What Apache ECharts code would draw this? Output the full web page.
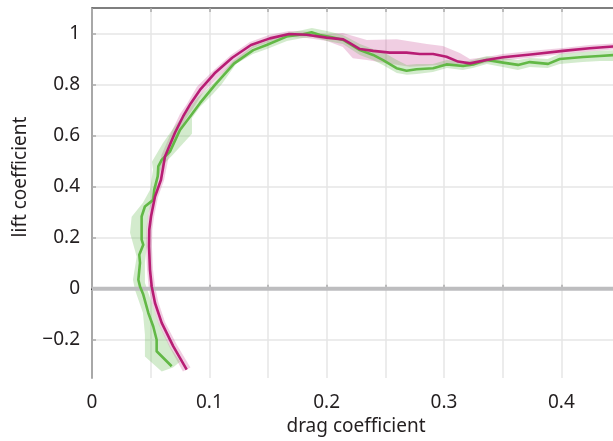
<!DOCTYPE html>
<html>
<head>
<meta charset="utf-8">
<script src="https://cdn.jsdelivr.net/npm/echarts@6/dist/echarts.min.js"></script>
<style>
  html, body { margin: 0; padding: 0; background: #fff; }
  #chart { width: 613px; height: 441px; }
</style>
</head>
<body>
<div id="chart"></div>
<script>
// Tick labels
const xLabelValues = [0, 0.1, 0.2, 0.3, 0.4];
const yLabelValues = [-0.2, 0, 0.2, 0.4, 0.6, 0.8, 1];

// Zero-lift reference
const baseline = [[0, 0], [0.45, 0]];

// Drag polar, green curve: [drag, lift]
const greenLine = [
  [0.0679, -0.304], [0.0551, -0.245], [0.0551, -0.200], [0.0522, -0.148],
  [0.0480, -0.095], [0.0437, -0.023], [0.0409, 0.009], [0.0395, 0.035],
  [0.0409, 0.101], [0.0403, 0.133], [0.0437, 0.172], [0.0423, 0.192],
  [0.0423, 0.283], [0.0451, 0.322], [0.0522, 0.348], [0.0530, 0.387],
  [0.0560, 0.440], [0.0565, 0.479], [0.0594, 0.505], [0.0664, 0.537],
  [0.0750, 0.622], [0.0835, 0.674], [0.0920, 0.727], [0.1050, 0.800],
  [0.1210, 0.882], [0.1374, 0.935], [0.1488, 0.955], [0.1658, 0.988],
  [0.1800, 0.997], [0.1871, 1.005], [0.1942, 0.994], [0.2056, 0.984],
  [0.2141, 0.975], [0.2283, 0.935], [0.2396, 0.916], [0.2481, 0.896],
  [0.2595, 0.864], [0.2681, 0.854], [0.2766, 0.860], [0.2907, 0.864],
  [0.3021, 0.879], [0.3163, 0.873], [0.3248, 0.879], [0.3362, 0.896],
  [0.3504, 0.886], [0.3631, 0.877], [0.3731, 0.888], [0.3887, 0.881],
  [0.3986, 0.900], [0.4185, 0.908], [0.4327, 0.912], [0.4500, 0.917]
];

// Drag polar, magenta curve: [drag, lift]
const magentaLine = [
  [0.0807, -0.317], [0.0693, -0.226], [0.0594, -0.134], [0.0537, -0.056],
  [0.0509, 0.009], [0.0494, 0.074], [0.0486, 0.166], [0.0488, 0.231],
  [0.0503, 0.283], [0.0537, 0.361], [0.0588, 0.427], [0.0622, 0.518],
  [0.0707, 0.611], [0.0775, 0.674], [0.0840, 0.725], [0.0920, 0.779],
  [0.1045, 0.844], [0.1195, 0.905], [0.1355, 0.955], [0.1516, 0.981],
  [0.1680, 0.998], [0.1829, 0.995], [0.1999, 0.984], [0.2141, 0.977],
  [0.2198, 0.962], [0.2283, 0.939], [0.2396, 0.932], [0.2538, 0.925],
  [0.2681, 0.925], [0.2794, 0.920], [0.2907, 0.920], [0.3021, 0.909],
  [0.3120, 0.890], [0.3220, 0.883], [0.3362, 0.896], [0.3504, 0.907],
  [0.3759, 0.919], [0.4015, 0.932], [0.4242, 0.942], [0.4500, 0.951]
];

// Spread envelopes as outlines: outer edge, then inner edge back
const greenBand = [
  [0.0594, -0.325], [0.0451, -0.266], [0.0451, -0.180], [0.0434, -0.094],
  [0.0366, -0.004], [0.0349, 0.035], [0.0381, 0.125], [0.0324, 0.219],
  [0.0338, 0.282], [0.0434, 0.337], [0.0494, 0.387], [0.0520, 0.466],
  [0.0511, 0.497], [0.0605, 0.571], [0.0707, 0.638], [0.0818, 0.701],
  [0.0903, 0.751], [0.1014, 0.795], [0.1201, 0.892], [0.1371, 0.951],
  [0.1491, 0.971], [0.1661, 1.002], [0.1797, 1.014], [0.1874, 1.022],
  [0.2002, 1.010], [0.2138, 0.994], [0.2283, 0.959], [0.2394, 0.939],
  [0.2479, 0.928], [0.2598, 0.896], [0.2683, 0.877], [0.2768, 0.881],
  [0.2905, 0.881], [0.3024, 0.896], [0.3160, 0.888], [0.3245, 0.896],
  [0.3365, 0.912], [0.3501, 0.904], [0.3629, 0.896], [0.3731, 0.904],
  [0.3884, 0.900], [0.3986, 0.920], [0.4182, 0.928], [0.4327, 0.932],
  [0.4500, 0.936],
  [0.4500, 0.892], [0.4327, 0.892], [0.4182, 0.888], [0.3986, 0.881],
  [0.3884, 0.865], [0.3731, 0.869], [0.3629, 0.857], [0.3501, 0.869],
  [0.3365, 0.881], [0.3245, 0.865], [0.3160, 0.857], [0.3024, 0.865],
  [0.2905, 0.849], [0.2768, 0.841], [0.2683, 0.838], [0.2598, 0.845],
  [0.2479, 0.877], [0.2394, 0.896], [0.2283, 0.916], [0.2138, 0.959],
  [0.2002, 0.971], [0.1882, 0.986], [0.1797, 0.982], [0.1661, 0.971],
  [0.1491, 0.939], [0.1371, 0.920], [0.1227, 0.881], [0.1107, 0.802],
  [0.1031, 0.763], [0.0920, 0.712], [0.0852, 0.669], [0.0852, 0.607],
  [0.0681, 0.521], [0.0596, 0.481], [0.0562, 0.427], [0.0545, 0.368],
  [0.0503, 0.325], [0.0480, 0.297], [0.0466, 0.231], [0.0466, 0.164],
  [0.0451, 0.102], [0.0451, 0.023], [0.0509, -0.055], [0.0565, -0.133],
  [0.0664, -0.227], [0.0750, -0.286], [0.0690, -0.309]
];

const magentaBand = [
  [0.0775, -0.325], [0.0664, -0.231], [0.0566, -0.137], [0.0511, -0.059],
  [0.0483, 0.008], [0.0469, 0.074], [0.0460, 0.164], [0.0463, 0.231],
  [0.0477, 0.286], [0.0511, 0.364], [0.0558, 0.431], [0.0592, 0.524],
  [0.0681, 0.618], [0.0750, 0.685], [0.0809, 0.724], [0.0894, 0.791],
  [0.1039, 0.857], [0.1184, 0.916], [0.1346, 0.967], [0.1508, 0.994],
  [0.1678, 1.010], [0.1831, 1.008], [0.2002, 0.998], [0.2138, 1.002],
  [0.2342, 0.975], [0.2598, 0.978], [0.2853, 0.959], [0.2990, 0.951],
  [0.3135, 0.924], [0.3220, 0.900], [0.3365, 0.908], [0.3501, 0.920],
  [0.3756, 0.932], [0.4012, 0.943], [0.4242, 0.955], [0.4500, 0.963],
  [0.4500, 0.939], [0.4242, 0.930], [0.4012, 0.920], [0.3756, 0.906],
  [0.3501, 0.894], [0.3365, 0.885], [0.3220, 0.871], [0.3135, 0.877],
  [0.2964, 0.877], [0.2709, 0.870], [0.2513, 0.883], [0.2342, 0.896],
  [0.2223, 0.903], [0.2138, 0.947], [0.2002, 0.971], [0.1831, 0.982],
  [0.1678, 0.986], [0.1525, 0.969], [0.1371, 0.943], [0.1223, 0.890],
  [0.1082, 0.832], [0.0945, 0.767], [0.0860, 0.705], [0.0801, 0.665],
  [0.0733, 0.603], [0.0652, 0.513], [0.0613, 0.423], [0.0562, 0.358],
  [0.0528, 0.280], [0.0514, 0.231], [0.0511, 0.166], [0.0520, 0.074],
  [0.0537, 0.010], [0.0566, -0.053], [0.0622, -0.131], [0.0724, -0.221],
  [0.0839, -0.309]
];

const FONT = 'Noto Sans';
const TEXT = '#231f20';
const GREEN = '#62b846';
const MAGENTA = '#b81d74';

function bandSeries(points, fill) {
  return {
    type: 'custom',
    z: 1,
    silent: true,
    data: [points[0]],
    renderItem: function (params, api) {
      return {
        type: 'polygon',
        shape: { points: points.map(function (p) { return api.coord(p); }) },
        style: { fill: fill }
      };
    }
  };
}

function lineSeries(data, color, z) {
  return {
    type: 'line',
    z: z,
    data: data,
    showSymbol: false,
    symbol: 'none',
    smooth: false,
    silent: true,
    lineStyle: { color: color, width: 2.6, join: 'round' }
  };
}

const chart = echarts.init(document.getElementById('chart'));
chart.setOption({
  animation: false,
  backgroundColor: '#fff',
  grid: { left: 92, right: -7, top: 8, bottom: 63, outerBoundsMode: 'none', containLabel: false },
  xAxis: [
    {
      type: 'value', min: 0, max: 0.45, interval: 0.05,
      axisLine: { lineStyle: { color: '#222', width: 2 } },
      axisTick: { inside: true, length: 4, lineStyle: { color: '#aaa', width: 1.5 } },
      axisLabel: {
        customValues: xLabelValues, color: TEXT, fontFamily: FONT, fontSize: 19, margin: 15,
        formatter: function (v) { return String(+v.toFixed(2)); }
      },
      splitLine: { show: true, lineStyle: { color: '#e6e6e6', width: 1.5 } },
      name: 'drag coefficient', nameLocation: 'middle', nameGap: 39,
      nameTextStyle: { color: TEXT, fontFamily: FONT, fontSize: 19 }
    },
    {
      type: 'value', position: 'top', min: 0, max: 0.45, interval: 0.05,
      axisLine: { show: true, lineStyle: { color: '#555', width: 1.5 } },
      axisTick: { show: true, inside: true, length: 4, lineStyle: { color: '#aaa', width: 1.5 } },
      axisLabel: { show: false },
      splitLine: { show: false }
    }
  ],
  yAxis: {
    type: 'value', min: -0.35, max: 1.1,
    axisLine: { show: true, lineStyle: { color: '#a8a8a8', width: 2 } },
    axisTick: { show: true, inside: true, length: 4, customValues: yLabelValues, lineStyle: { color: '#aaa', width: 1.5 } },
    axisLabel: {
      customValues: yLabelValues, color: TEXT, fontFamily: FONT, fontSize: 19, margin: 12,
      formatter: function (v) {
        const s = String(+Math.abs(v).toFixed(2));
        return v < 0 ? '\u2212' + s : s;
      }
    },
    splitLine: { show: true, lineStyle: { color: '#e6e6e6', width: 1.5 } },
    name: 'lift coefficient', nameLocation: 'middle', nameGap: 62, nameRotate: 90,
    nameTextStyle: { color: TEXT, fontFamily: FONT, fontSize: 19, padding: [0, 0, 0, 32] }
  },
  series: [
    bandSeries(magentaBand, 'rgba(196, 60, 140, 0.25)'),
    bandSeries(greenBand, 'rgba(110, 190, 90, 0.3)'),
    {
      type: 'line', z: 2, silent: true, data: baseline, symbol: 'none',
      lineStyle: { color: '#bdbdbf', width: 4 }
    },
    lineSeries(greenLine, GREEN, 3),
    lineSeries(magentaLine, MAGENTA, 4)
  ]
});
</script>
</body>
</html>
